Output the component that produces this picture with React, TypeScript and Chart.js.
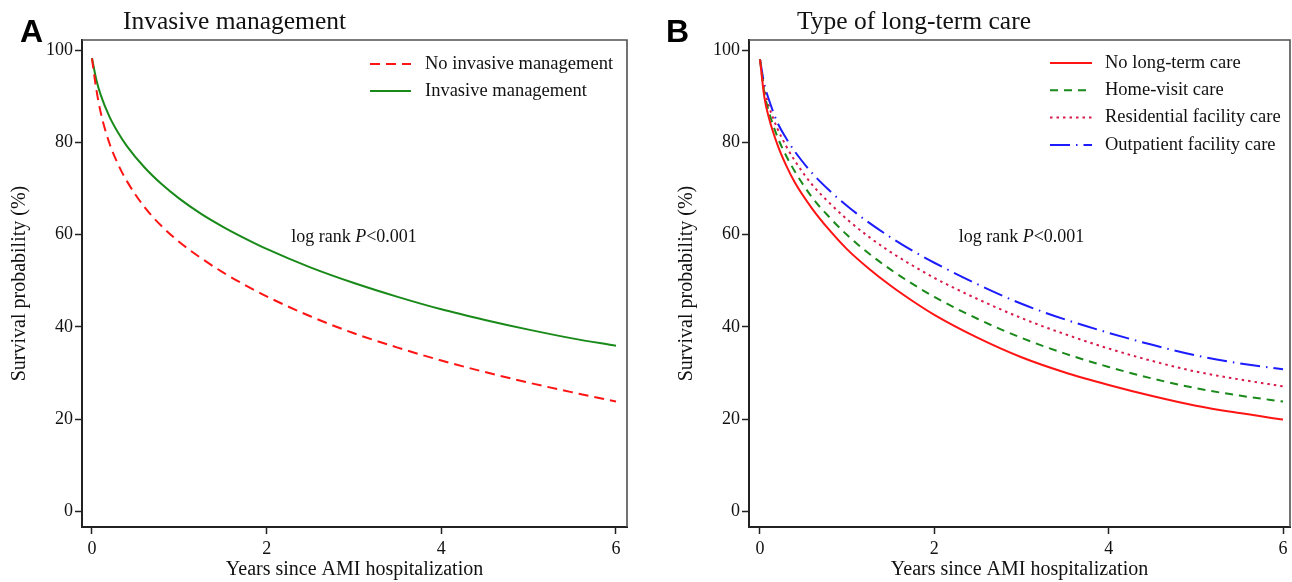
import React, { useEffect, useRef } from "react";
import { Chart, registerables } from "chart.js";

Chart.register(...registerables);

const YEARS = [0, 0.05, 0.1, 0.2, 0.3, 0.4, 0.6, 0.8, 1.0, 1.25, 1.5, 1.75, 2.0, 2.5, 3.0, 3.5, 4.0, 4.5, 5.0, 5.5, 6.0];

// Panel A
const A_NO_INVASIVE = [98.2, 91.5, 86.5, 79.8, 75.2, 71.6, 66.0, 61.8, 58.4, 54.9, 51.8, 49.1, 46.6, 42.3, 38.6, 35.5, 32.7, 30.2, 27.9, 25.8, 23.8];
const A_INVASIVE = [98.3, 93.6, 90.3, 85.6, 82.1, 79.2, 74.6, 70.9, 67.8, 64.5, 61.7, 59.2, 56.9, 52.9, 49.5, 46.5, 43.8, 41.5, 39.4, 37.5, 35.9];

// Panel B
const B_NO_LTC = [98, 89.8, 85.5, 79.5, 75.0, 71.3, 65.6, 60.9, 56.8, 52.6, 48.9, 45.6, 42.6, 37.6, 33.4, 30.1, 27.4, 25.0, 22.9, 21.3, 19.9];
const B_HOME = [98, 90.8, 86.8, 81.2, 77.1, 73.7, 68.0, 63.7, 59.9, 55.9, 52.4, 49.3, 46.5, 41.7, 37.6, 34.2, 31.3, 28.8, 26.7, 25.1, 23.8];
const B_RESIDENTIAL = [98, 91.6, 88.0, 83.0, 79.2, 76.0, 70.8, 66.8, 63.3, 59.5, 56.2, 53.3, 50.6, 46.0, 41.9, 38.4, 35.3, 32.6, 30.3, 28.6, 27.1];
const B_OUTPATIENT = [98, 92.6, 89.4, 84.3, 80.9, 78.0, 73.3, 69.5, 66.2, 62.6, 59.4, 56.5, 53.9, 49.2, 45.0, 41.6, 38.7, 36.1, 33.8, 32.1, 30.8];

const Y_TICKS = [0, 20, 40, 60, 80, 100];
const X_TICKS = [0, 2, 4, 6];

const SERIF = "'Liberation Serif', 'Times New Roman', serif";
const SANS = "'Liberation Sans', Arial, sans-serif";

const RED = "#ff1414";
const GREEN = "#198a19";
const CRIMSON = "#d81b4a";
const BLUE = "#1c1cff";

type Series = { label: string; data: number[]; color: string; dash: number[] };

const toPts = (arr: number[]) => arr.map((y, i) => ({ x: YEARS[i], y }));

interface PanelCfg {
  letter: string;
  title: string;
  titleX: number;
  series: Series[];
  legendLineX0: number;
  legendLineX1: number;
  legendTextX: number;
  legendY0: number;
  legendStep: number;
  yWidth: number;
  padRight: number;
  xMin: number;
  xMax: number;
  yTitlePad: number;
}

const panelA: PanelCfg = {
  letter: "A",
  title: "Invasive management",
  titleX: 123,
  series: [
    { label: "No invasive management", data: A_NO_INVASIVE, color: RED, dash: [10, 6] },
    { label: "Invasive management", data: A_INVASIVE, color: GREEN, dash: [] },
  ],
  legendLineX0: 370,
  legendLineX1: 411,
  legendTextX: 425,
  legendY0: 64,
  legendStep: 27,
  yWidth: 82,
  padRight: 19,
  xMin: -0.114,
  xMax: 6.126,
  yTitlePad: 8,
};

const panelB: PanelCfg = {
  letter: "B",
  title: "Type of long-term care",
  titleX: 151,
  series: [
    { label: "No long-term care", data: B_NO_LTC, color: RED, dash: [] },
    { label: "Home-visit care", data: B_HOME, color: GREEN, dash: [8, 6] },
    { label: "Residential facility care", data: B_RESIDENTIAL, color: CRIMSON, dash: [2.5, 4] },
    { label: "Outpatient facility care", data: B_OUTPATIENT, color: BLUE, dash: [20, 6, 1.5, 6] },
  ],
  legendLineX0: 404,
  legendLineX1: 446,
  legendTextX: 459,
  legendY0: 63,
  legendStep: 27.3,
  yWidth: 103,
  padRight: 2,
  xMin: -0.126,
  xMax: 6.08,
  yTitlePad: 29,
};

function makeDecor(cfg: PanelCfg) {
  return {
    id: "decor" + cfg.letter,
    beforeDraw(chart: any) {
      const ctx = chart.ctx;
      ctx.save();
      ctx.fillStyle = "#fff";
      ctx.fillRect(0, 0, chart.width, chart.height);
      ctx.restore();
    },
    afterDraw(chart: any) {
      const ctx = chart.ctx;
      const ca = chart.chartArea;
      ctx.save();
      // frame top and right
      ctx.strokeStyle = "#505050";
      ctx.lineWidth = 1.6;
      ctx.beginPath();
      ctx.moveTo(ca.left, ca.top);
      ctx.lineTo(ca.right, ca.top);
      ctx.lineTo(ca.right, ca.bottom);
      ctx.stroke();

      // panel letter
      ctx.fillStyle = "#000";
      ctx.font = `bold 32px ${SANS}`;
      ctx.textBaseline = "alphabetic";
      ctx.textAlign = "left";
      ctx.fillText(cfg.letter, 20, 42);

      // title
      ctx.font = `25.5px ${SERIF}`;
      ctx.fillStyle = "#111";
      ctx.fillText(cfg.title, cfg.titleX, 29);

      // legend
      ctx.font = `18.5px ${SERIF}`;
      ctx.textBaseline = "middle";
      cfg.series.forEach((s, i) => {
        const y = cfg.legendY0 + i * cfg.legendStep;
        ctx.strokeStyle = s.color;
        ctx.lineWidth = 2;
        ctx.setLineDash(s.dash);
        ctx.beginPath();
        ctx.moveTo(cfg.legendLineX0, y);
        ctx.lineTo(cfg.legendLineX1, y);
        ctx.stroke();
        ctx.setLineDash([]);
        ctx.fillStyle = "#111";
        ctx.fillText(s.label, cfg.legendTextX, y);
      });

      // log rank annotation
      const xs = chart.scales.x;
      const ys = chart.scales.y;
      const cx = xs.getPixelForValue(3);
      const cy = ys.getPixelForValue(59.5);
      const p1 = "log rank ";
      const p2 = "P";
      const p3 = "<0.001";
      ctx.font = `18px ${SERIF}`;
      const w1 = ctx.measureText(p1).width;
      const w3 = ctx.measureText(p3).width;
      ctx.font = `italic 18px ${SERIF}`;
      const w2 = ctx.measureText(p2).width;
      let x = cx - (w1 + w2 + w3) / 2;
      ctx.textAlign = "left";
      ctx.font = `18px ${SERIF}`;
      ctx.fillText(p1, x, cy);
      x += w1;
      ctx.font = `italic 18px ${SERIF}`;
      ctx.fillText(p2, x, cy);
      x += w2;
      ctx.font = `18px ${SERIF}`;
      ctx.fillText(p3, x, cy);
      ctx.restore();
    },
  };
}

function buildConfig(cfg: PanelCfg): any {
  return {
    type: "line",
    data: {
      datasets: cfg.series.map((s) => ({
        label: s.label,
        data: toPts(s.data),
        borderColor: s.color,
        backgroundColor: s.color,
        borderWidth: 2,
        borderDash: s.dash,
        pointRadius: 0,
        fill: false,
        cubicInterpolationMode: "monotone",
      })),
    },
    options: {
      animation: false,
      responsive: true,
      maintainAspectRatio: false,
      layout: { padding: { top: 40, right: cfg.padRight, left: 0, bottom: 0 } },
      plugins: {
        legend: { display: false },
        tooltip: { enabled: false },
        title: { display: false },
      },
      scales: {
        x: {
          type: "linear",
          min: cfg.xMin,
          max: cfg.xMax,
          afterBuildTicks: (sc: any) => {
            sc.ticks = X_TICKS.map((v) => ({ value: v }));
          },
          afterFit: (sc: any) => {
            sc.height = 55;
          },
          grid: { display: true, drawOnChartArea: false, drawTicks: true, tickLength: 7, tickColor: "#222", tickWidth: 1.5 },
          border: { display: true, color: "#222", width: 2 },
          ticks: { color: "#111", font: { family: SERIF, size: 18 }, padding: 4, maxRotation: 0 },
          title: {
            display: true,
            text: "Years since AMI hospitalization",
            color: "#111",
            font: { family: SERIF, size: 20 },
            padding: { top: 0, bottom: 0 },
          },
        },
        y: {
          type: "linear",
          min: -3.4,
          max: 102.2,
          afterBuildTicks: (sc: any) => {
            sc.ticks = Y_TICKS.map((v) => ({ value: v }));
          },
          afterFit: (sc: any) => {
            sc.width = cfg.yWidth;
          },
          grid: { display: true, drawOnChartArea: false, drawTicks: true, tickLength: 7, tickColor: "#222", tickWidth: 1.5 },
          border: { display: true, color: "#222", width: 2 },
          ticks: { color: "#111", font: { family: SERIF, size: 18 }, padding: 2 },
          title: {
            display: true,
            text: "Survival probability (%)",
            color: "#111",
            font: { family: SERIF, size: 20 },
            padding: { top: cfg.yTitlePad, bottom: 0 },
          },
        },
      },
    },
    plugins: [makeDecor(cfg)],
  };
}

export default function App() {
  const refA = useRef<HTMLCanvasElement | null>(null);
  const refB = useRef<HTMLCanvasElement | null>(null);

  useEffect(() => {
    const charts: Chart[] = [];
    if (refA.current) charts.push(new Chart(refA.current, buildConfig(panelA)));
    if (refB.current) charts.push(new Chart(refB.current, buildConfig(panelB)));
    return () => charts.forEach((c) => c.destroy());
  }, []);

  return (
    <div style={{ position: "fixed", left: 0, top: 0, width: 1292, height: 582, background: "#fff" }}>
      <div style={{ position: "absolute", left: 0, top: 0, width: 646, height: 582 }}>
        <canvas ref={refA} />
      </div>
      <div style={{ position: "absolute", left: 646, top: 0, width: 646, height: 582 }}>
        <canvas ref={refB} />
      </div>
    </div>
  );
}
